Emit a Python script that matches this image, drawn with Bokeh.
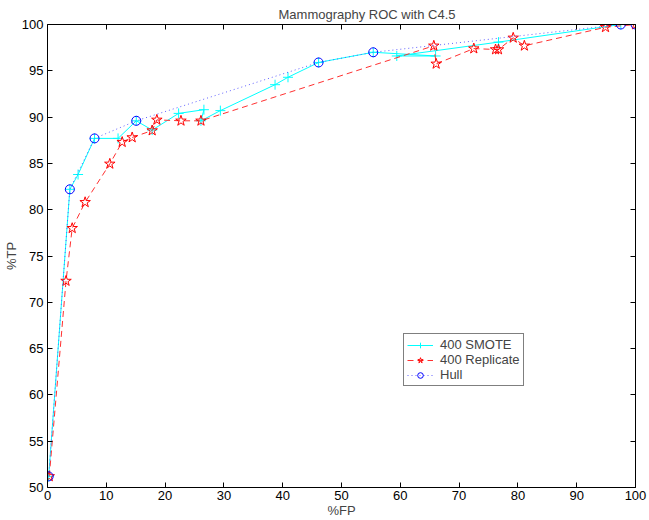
from bokeh.plotting import figure
from bokeh.models import LinearAxis, Legend, LegendItem, FixedTicker, Range1d
from bokeh.embed import file_html
from bokeh.resources import INLINE

# ROC operating points (%FP, %TP)
smote_fp = [0.2, 3.8, 5.2, 8.0, 12.0, 15.1, 17.8, 22.3, 26.6, 26.1, 29.4, 38.7, 40.9, 46.1, 55.4, 66.0, 59.4, 76.7, 97.5, 100.0]
smote_tp = [51.2, 82.2, 83.8, 87.7, 87.7, 89.6, 88.6, 90.4, 90.8, 89.6, 90.7, 93.5, 94.3, 95.9, 97.0, 96.6, 96.6, 98.1, 100.0, 100.0]

rep_fp = [0.3, 3.15, 4.2, 6.4, 10.6, 12.7, 14.4, 17.8, 18.6, 22.7, 26.1, 65.7, 66.1, 72.5, 76.2, 76.7, 79.2, 81.1, 94.9, 100.0]
rep_tp = [51.2, 72.3, 78.0, 80.8, 84.95, 87.3, 87.8, 88.55, 89.7, 89.6, 89.6, 97.7, 95.75, 97.4, 97.3, 97.3, 98.56, 97.7, 99.7, 100.0]

hull_fp = [0.2, 3.8, 8.0, 15.1, 46.1, 55.4, 97.5, 100.0]
hull_tp = [51.2, 82.2, 87.7, 89.6, 95.9, 97.0, 100.0, 100.0]

x_ticks = [0, 10, 20, 30, 40, 50, 60, 70, 80, 90, 100]
y_ticks = [50, 55, 60, 65, 70, 75, 80, 85, 90, 95, 100]

FONT = "Liberation Sans"

p = figure(width=649, height=520, output_backend="svg", toolbar_location=None,
           x_range=Range1d(0, 100), y_range=Range1d(50, 100),
           min_border_left=47, min_border_right=14, min_border_top=24, min_border_bottom=33,
           background_fill_color="white", border_fill_color="white")

p.title.text = "Mammography ROC with C4.5"
p.title.text_font = FONT
p.title.text_font_size = "13px"
p.title.text_font_style = "normal"
p.title.align = "left"
p.title.vertical_align = "top"
p.title.offset = 231
p.title.standoff = 2

p.xgrid.visible = False
p.ygrid.visible = False
p.outline_line_color = None


def style_axis(ax, ticks, show_labels, label_standoff=4):
    ax.ticker = FixedTicker(ticks=ticks)
    ax.axis_line_color = "black"
    ax.axis_line_width = 1
    ax.major_tick_line_color = "black"
    ax.major_tick_in = 5
    ax.major_tick_out = 0
    ax.minor_tick_line_color = None
    ax.major_label_text_font = FONT
    ax.axis_label_text_font = FONT
    ax.axis_label_text_font_size = "13px"
    ax.axis_label_text_font_style = "normal"
    ax.axis_label_standoff = 0
    if show_labels:
        ax.major_label_text_font_size = "13px"
        ax.major_label_text_color = "black"
        ax.major_label_standoff = label_standoff
    else:
        # box edges: inward ticks only, labels not painted
        ax.major_label_text_font_size = "1px"
        ax.major_label_text_color = None
        ax.major_label_standoff = 0


style_axis(p.xaxis[0], x_ticks, True, 3)
style_axis(p.yaxis[0], y_ticks, True, 4)
p.xaxis[0].axis_label = "%FP"
p.yaxis[0].axis_label = "%TP"

top = LinearAxis()
style_axis(top, x_ticks, False)
p.add_layout(top, "above")
right = LinearAxis()
style_axis(right, y_ticks, False)
p.add_layout(right, "right")

# 400 SMOTE
s_line = p.line(smote_fp, smote_tp, line_color="cyan", line_width=1)
s_mark = p.scatter(smote_fp, smote_tp, marker="cross", size=10, line_color="cyan", line_width=1)

# 400 Replicate
r_line = p.line(rep_fp, rep_tp, line_color="#ff3030", line_width=1, line_dash="6 4")
r_mark = p.scatter(rep_fp, rep_tp, marker="star", size=11, line_color="red", fill_color=None, line_width=1)

# Convex hull
h_line = p.line(hull_fp, hull_tp, line_color="#6060ff", line_width=1, line_dash="1 3")
h_mark = p.scatter(hull_fp, hull_tp, marker="circle", size=9, line_color="blue", fill_color=None, line_width=1)

legend = Legend(items=[
    LegendItem(label="400 SMOTE", renderers=[s_line, s_mark]),
    LegendItem(label="400 Replicate", renderers=[r_line, r_mark]),
    LegendItem(label="Hull", renderers=[h_line, h_mark]),
], location=(356, 101))
legend.label_text_font = FONT
legend.label_text_font_size = "13px"
legend.label_height = 14
legend.glyph_height = 14
legend.glyph_width = 26
legend.label_standoff = 7
legend.spacing = 0
legend.padding = 3
legend.margin = 0
legend.border_line_color = "black"
legend.border_line_width = 1
legend.background_fill_color = "white"
legend.background_fill_alpha = 1
p.add_layout(legend, "center")

open("out.html", "w").write(file_html(p, INLINE))
